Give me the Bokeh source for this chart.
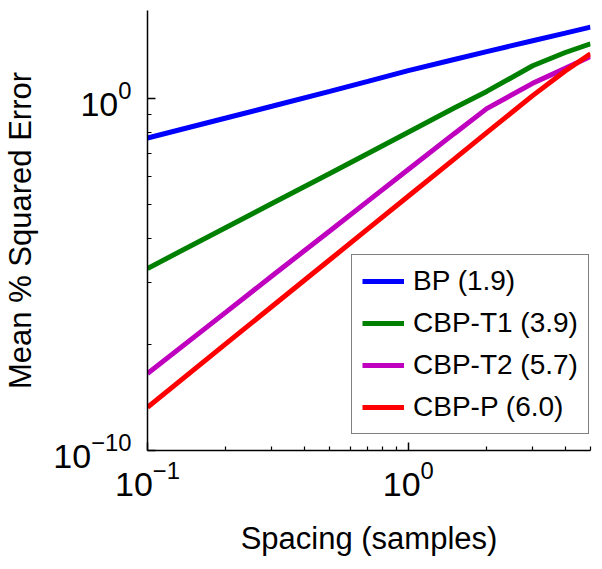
import math
from bokeh.plotting import figure
from bokeh.models import (Range1d, FixedTicker, LogTickFormatter, Legend, LegendItem)
from bokeh.embed import file_html
from bokeh.resources import INLINE

# ---- data ----
spacing = [0.1, 0.2, 0.3, 0.5, 0.7, 1.0, 1.5, 2.0, 3.0, 4.0, 5.0]
bp      = [0.0767, 0.284, 0.612, 1.63, 3.13, 6.31, 13.1, 22.0, 44.7, 73.3, 109.0]
cbp_t1  = [1.50e-5, 2.19e-4, 1.05e-3, 7.50e-3, 0.0278, 0.112, 0.545, 1.62, 8.71, 20.7, 36.6]
cbp_t2  = [1.55e-8, 8.61e-7, 9.12e-6, 1.75e-4, 1.23e-3, 9.75e-3, 0.102, 0.525, 2.75, 7.33, 16.0]
cbp_p   = [1.70e-9, 1.09e-7, 1.24e-6, 2.65e-5, 2.00e-4, 1.70e-3, 0.0193, 0.109, 1.23, 6.17, 19.0]

series_labels = ["BP (1.9)", "CBP-T1 (3.9)", "CBP-T2 (5.7)", "CBP-P (6.0)"]
series_colors = ["#0000FF", "#008000", "#BF00BF", "#FF0000"]

x_major = [0.1, 1.0]
x_minor = [0.2, 0.3, 0.4, 0.5, 0.6, 0.7, 0.8, 0.9, 2.0, 3.0, 4.0, 5.0]
y_major = [1e-10, 1.0]

x_title = "Spacing (samples)"
y_title = "Mean % Squared Error"

FONT = "Liberation Sans"

XMIN, XMAX = 0.1, 5.0
YMIN, YMAX = 1e-10, 10 ** 2.51

p = figure(width=602, height=569, x_axis_type="log", y_axis_type="log",
           x_range=Range1d(XMIN, XMAX), y_range=Range1d(YMIN, YMAX),
           output_backend="svg", toolbar_location=None,
           min_border_left=146, min_border_right=12, min_border_top=10,
           min_border_bottom=119)
p.outline_line_color = None
p.grid.visible = False
p.background_fill_color = "white"
p.border_fill_color = "white"

# MATLAB-style minor ticks on y: spread over the 10^-10 .. 10^0 interval
y_minor = [10 ** (-10 + 10 * math.log10(k)) for k in range(2, 10)]

p.xaxis.ticker = FixedTicker(ticks=x_major, minor_ticks=x_minor)
p.yaxis.ticker = FixedTicker(ticks=y_major, minor_ticks=y_minor)
for ax in (p.xaxis[0], p.yaxis[0]):
    ax.formatter = LogTickFormatter()
    ax.major_tick_in = 8
    ax.major_tick_out = 0
    ax.minor_tick_in = 4
    ax.minor_tick_out = 0
    ax.axis_line_width = 1.5
    ax.major_tick_line_width = 1.5
    ax.minor_tick_line_width = 1.2
    ax.axis_line_color = "black"
    ax.major_tick_line_color = "black"
    ax.minor_tick_line_color = "black"
    ax.major_label_text_font = FONT
    ax.major_label_text_font_size = "34px"
    ax.major_label_text_color = "black"
    ax.axis_label_text_font = FONT
    ax.axis_label_text_font_size = "31px"
    ax.axis_label_text_font_style = "normal"
    ax.axis_label_text_color = "black"

p.xaxis.axis_label = x_title
p.yaxis.axis_label = y_title
p.xaxis.major_label_standoff = 10
p.xaxis.axis_label_standoff = 22
p.yaxis.major_label_standoff = 16
p.yaxis.axis_label_standoff = 12

renderers = []
for ys, col in zip([bp, cbp_t1, cbp_t2, cbp_p], series_colors):
    r = p.line(spacing, ys, line_color=col, line_width=5)
    renderers.append(r)

legend = Legend(items=[LegendItem(label=l, renderers=[r]) for l, r in zip(series_labels, renderers)],
                location=(204, 16), orientation="vertical",
                label_text_font=FONT, label_text_font_size="28px", label_text_color="black",
                glyph_width=42, glyph_height=24, label_standoff=9,
                spacing=10, padding=10, margin=0,
                border_line_color="black", border_line_width=1.2,
                background_fill_color="white", background_fill_alpha=1.0)
p.add_layout(legend, "center")

open("out.html", "w").write(file_html(p, INLINE))
